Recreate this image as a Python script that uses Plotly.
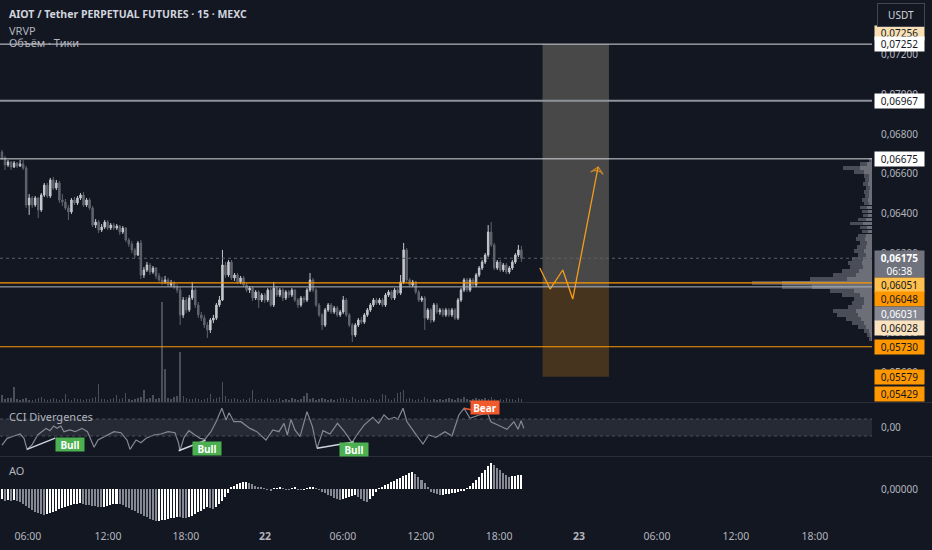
import plotly.graph_objects as go

# 15m свечи AIOT/USDT, цены в единицах 1e-5 USDT: (open, high, low, close)
ohlc = [
    (6709, 6720, 6669, 6679), (6679, 6690, 6619, 6644), (6644, 6669, 6634, 6659), (6659, 6664, 6619, 6634),
    (6634, 6664, 6629, 6654), (6654, 6659, 6629, 6639), (6639, 6669, 6634, 6649), (6649, 6669, 6619, 6629),
    (6629, 6639, 6428, 6443), (6443, 6498, 6393, 6478), (6478, 6488, 6428, 6443), (6443, 6488, 6433, 6478),
    (6478, 6483, 6377, 6418), (6418, 6503, 6408, 6493), (6493, 6554, 6483, 6543), (6543, 6554, 6478, 6488),
    (6488, 6579, 6478, 6569), (6569, 6584, 6518, 6528), (6528, 6569, 6518, 6554), (6554, 6564, 6453, 6468),
    (6468, 6498, 6438, 6458), (6458, 6473, 6418, 6428), (6428, 6443, 6367, 6408), (6408, 6478, 6398, 6468),
    (6468, 6483, 6443, 6453), (6453, 6488, 6443, 6478), (6478, 6503, 6468, 6493), (6493, 6508, 6433, 6443),
    (6443, 6478, 6433, 6468), (6468, 6478, 6418, 6428), (6428, 6438, 6332, 6342), (6342, 6372, 6327, 6357),
    (6357, 6367, 6302, 6317), (6317, 6347, 6307, 6332), (6332, 6367, 6322, 6357), (6357, 6367, 6317, 6327),
    (6327, 6352, 6317, 6342), (6342, 6352, 6317, 6327), (6327, 6347, 6317, 6337), (6337, 6342, 6292, 6307),
    (6307, 6337, 6297, 6327), (6327, 6332, 6257, 6267), (6267, 6277, 6232, 6247), (6247, 6262, 6201, 6217),
    (6217, 6227, 6176, 6191), (6191, 6262, 6186, 6252), (6252, 6267, 6071, 6091), (6091, 6131, 6076, 6116),
    (6116, 6156, 6106, 6141), (6141, 6151, 6091, 6106), (6106, 6136, 6096, 6126), (6126, 6131, 6071, 6086),
    (6086, 6101, 6056, 6066), (6066, 6081, 6040, 6056), (6056, 6086, 6045, 6066), (6066, 6076, 6030, 6040),
    (6040, 6066, 6030, 6051), (6051, 6061, 6020, 6030), (6030, 6045, 6000, 6015), (6015, 6030, 5839, 5890),
    (5890, 5980, 5875, 5965), (5965, 5980, 5900, 5915), (5915, 5990, 5905, 5975), (5975, 6056, 5965, 6015),
    (6015, 6025, 5925, 5940), (5940, 5955, 5875, 5890), (5890, 5905, 5859, 5874), (5874, 5890, 5824, 5839),
    (5839, 5854, 5774, 5814), (5814, 5874, 5799, 5864), (5864, 5890, 5849, 5874), (5874, 5950, 5864, 5940),
    (5940, 5985, 5930, 5965), (5965, 6217, 5960, 6141), (6141, 6156, 6076, 6091), (6091, 6166, 6081, 6156),
    (6156, 6166, 6066, 6076), (6076, 6101, 6061, 6091), (6091, 6101, 6045, 6056), (6056, 6086, 6045, 6076),
    (6076, 6086, 6030, 6040), (6040, 6051, 6005, 6015), (6015, 6035, 6000, 6025), (6025, 6035, 5960, 5975),
    (5975, 6015, 5965, 6005), (6005, 6015, 5925, 5965), (5965, 6000, 5955, 5990), (5990, 6000, 5950, 5965),
    (5965, 6025, 5955, 6015), (6015, 6025, 5930, 5940), (5940, 6056, 5930, 6025), (6025, 6035, 5980, 5990),
    (5990, 6025, 5980, 6015), (6015, 6025, 5960, 5975), (5975, 6015, 5965, 6005), (6005, 6015, 5975, 5990),
    (5990, 6025, 5980, 6015), (6015, 6020, 5955, 5965), (5965, 5975, 5925, 5940), (5940, 5985, 5930, 5975),
    (5975, 5985, 5950, 5965), (5965, 6025, 5955, 6015), (6015, 6101, 6005, 6066), (6066, 6076, 6005, 6015),
    (6015, 6025, 5930, 5940), (5940, 5950, 5880, 5890), (5890, 5900, 5814, 5839), (5839, 5925, 5829, 5915),
    (5915, 5950, 5905, 5940), (5940, 5950, 5895, 5905), (5905, 5935, 5895, 5925), (5925, 5935, 5880, 5890),
    (5890, 5915, 5880, 5905), (5905, 5985, 5895, 5965), (5965, 5975, 5880, 5890), (5890, 5900, 5829, 5839),
    (5839, 5849, 5754, 5789), (5789, 5849, 5779, 5839), (5839, 5874, 5829, 5864), (5864, 5880, 5844, 5854),
    (5854, 5900, 5844, 5890), (5890, 5925, 5880, 5915), (5915, 5950, 5905, 5940), (5940, 5975, 5930, 5965),
    (5965, 5975, 5940, 5950), (5950, 5975, 5940, 5965), (5965, 5975, 5930, 5940), (5940, 6000, 5930, 5990),
    (5990, 6015, 5980, 6005), (6005, 6015, 5965, 5975), (5975, 6025, 5965, 6015), (6015, 6025, 5990, 6000),
    (6000, 6091, 5990, 6056), (6056, 6252, 6045, 6217), (6217, 6227, 6056, 6066), (6066, 6076, 6030, 6040),
    (6040, 6066, 6030, 6056), (6056, 6061, 5995, 6005), (6005, 6015, 5955, 5965), (5965, 5985, 5955, 5975),
    (5975, 5985, 5814, 5874), (5874, 5925, 5864, 5915), (5915, 5925, 5849, 5864), (5864, 5950, 5854, 5940),
    (5940, 5950, 5895, 5905), (5905, 5925, 5890, 5915), (5915, 5925, 5880, 5890), (5890, 5925, 5880, 5915),
    (5915, 5925, 5880, 5890), (5890, 5925, 5880, 5915), (5915, 5925, 5864, 5874), (5874, 5975, 5864, 5965),
    (5965, 6025, 5955, 6015), (6015, 6076, 6005, 6066), (6066, 6076, 6005, 6015), (6015, 6076, 6005, 6066),
    (6066, 6076, 6030, 6040), (6040, 6101, 6030, 6091), (6091, 6136, 6081, 6126), (6126, 6166, 6116, 6156),
    (6156, 6201, 6146, 6191), (6191, 6342, 6181, 6307), (6307, 6357, 6232, 6242), (6242, 6252, 6116, 6126),
    (6126, 6166, 6116, 6156), (6156, 6166, 6106, 6116), (6116, 6151, 6106, 6141), (6141, 6151, 6096, 6106),
    (6106, 6136, 6096, 6126), (6126, 6166, 6116, 6156), (6156, 6201, 6146, 6191), (6191, 6242, 6181, 6217),
    (6217, 6237, 6156, 6175),
]

# объём по свечам (условные единицы)
volume = [
    7, 3, 4, 4, 15, 3, 2, 3, 4, 2,
    2, 3, 4, 5, 3, 2, 3, 4, 3, 2,
    3, 8, 3, 2, 4, 3, 3, 2, 3, 3,
    4, 5, 18, 3, 3, 2, 3, 4, 7, 3,
    4, 9, 3, 2, 3, 4, 5, 12, 3, 4,
    7, 3, 4, 100, 33, 4, 3, 5, 6, 50,
    6, 4, 3, 3, 4, 3, 2, 3, 4, 8,
    3, 4, 5, 20, 6, 3, 3, 4, 3, 2,
    3, 2, 4, 12, 3, 2, 3, 2, 4, 3,
    2, 3, 4, 2, 3, 2, 4, 3, 2, 3,
    6, 9, 3, 4, 2, 3, 4, 3, 2, 3,
    2, 3, 4, 4, 3, 2, 5, 3, 2, 3,
    3, 2, 4, 3, 2, 3, 8, 7, 3, 2,
    4, 9, 10, 12, 3, 4, 3, 2, 3, 2,
    5, 3, 2, 3, 2, 3, 2, 3, 4, 3,
    2, 4, 3, 5, 3, 2, 3, 4, 3, 3,
    4, 3, 5, 3, 2, 3, 2, 4, 3, 3,
    2, 4, 3,
]

# Awesome Oscillator, единицы 1e-5
ao = [
    -40, -46, -42, -48, -44, -46,
    -52, -60, -68, -76, -84, -90, -96, -100, -104,
    -100, -96, -90, -86, -80, -76, -72, -68, -64, -60, -58, -56,
    -58, -62, -64, -66, -68, -70, -72,
    -70, -66, -62, -60, -58,
    -60, -64, -70, -76, -82, -88, -94, -100, -106, -112, -118, -124, -128,
    -126, -124, -122, -120, -116, -114, -110,
    -112, -114, -116,
    -112, -106, -98, -92, -86, -78, -70,
    -74, -80,
    -72, -60, -46, -30, -16,
    6, 14, 20, 24, 27, 29,
    26, 20, 14, 9, 5,
    2, -3, -5, 2, 4, 6, 3, -2, -4, 3, 5, -2, -4, -1, 3, 5, 7,
    4, -4,
    -10, -16, -22, -28, -34, -40, -44,
    -40, -36, -32, -28, -24,
    -30, -38, -46, -52,
    -40, -26, -10,
    4, 10, 16, 22, 28, 34, 40, 46, 52, 58, 64, 69,
    62, 50, 38, 24, 10,
    -10, -16, -20, -24,
    -22, -20, -18, -16, -14, -12, -9, -6,
    4, 14, 26, 38, 50, 64, 78, 92, 104,
    96, 86, 76, 66, 56, 49,
    52, 54, 55, 57,
]

# CCI: позиция (номер свечи) и значение
cci_bar = [0, 1.7, 4.0, 6.0, 7.3, 8.3, 9.9, 11.8, 13.6, 14.6,
           15.9, 17.1, 18.2, 19.5, 20.5, 22.5, 24.2, 26.5, 28.3, 30.5,
           31.8, 34.8, 37.1, 39.4, 41.4, 42.4, 44.4, 46.0, 47.7, 50.3,
           52.6, 55.0, 57.3, 58.5, 58.9, 60.3, 61.9, 63.9, 65.6, 67.2,
           69.2, 70.9, 72.8, 74.2, 75.2, 76.8, 79.1, 82.1, 84.4, 87.4,
           89.7, 91.7, 93.4, 94.5, 95.7, 97.0, 98.7, 101.0, 102.8, 104.3,
           106.3, 108.6, 111.1, 113.4, 115.9, 117.5, 119.9, 122.8, 124.7, 126.5,
           128.1, 130.0, 131.1, 132.8, 134.1, 136.4, 139.4, 141.3, 143.7, 146.7,
           149.0, 151.3, 153.0, 155.0, 158.0, 160.8, 161.9, 164.2, 167.2, 169.5,
           170.9, 171.9, 172.8]
cci_val = [-206, -127, -100, -76, -127, -257, -206, -88, -37, -10,
           -37, 18, -10, 18, -49, -29, -49, -10, -49, -233,
           -147, -88, -49, -61, -147, -257, -147, -178, -127, -88,
           -76, -49, -61, -186, -273, -116, -37, -88, -127, -139,
           -49, 68, 226, 88, 174, 68, 68, -10, -49, -147,
           -29, -49, 49, -88, 96, -29, -108, 186, 10, -245,
           -37, -76, 49, -49, -178, -88, 29, 120, 49, 147,
           96, 120, 96, 226, 68, -49, -194, -88, -116, -49,
           -100, 147, 226, 108, 147, 167, 68, 29, -21, 68,
           -21, 80, -10]

# дивергенции CCI: (бар1, бар2), (cci1, cci2), метка и её место
div_bars = [(8.3, 17.6), (58.5, 67.4), (104.3, 116.5), (153.0, 160.3)]
div_vals = [(-257, -125), (-273, -150), (-245, -170), (226, 170)]
div_kind = ["Bull", "Bull", "Bull", "Bear"]
div_label_bar = [22.6, 68.0, 116.6, 159.8]
div_label_val = [-200, -241, -262, 235]

# VRVP: уровни цены и объём (полный / восходящий)
vp_price = [0.0667 - 0.0002 * k for k in range(46)]
vp_total = [3, 12, 29, 18, 8, 7, 9, 6, 8, 7, 10, 8, 12, 10, 9, 14, 22, 12, 10, 14,
            16, 12, 15, 18, 14, 20, 24, 22, 30, 39, 62, 120, 90, 42, 30, 18, 20, 24, 39, 35,
            26, 20, 14, 8, 5, 3]
vp_up = [1, 5, 12, 8, 3, 3, 4, 2, 3, 3, 4, 3, 5, 4, 4, 6, 9, 5, 4, 6,
         7, 5, 6, 8, 6, 9, 10, 9, 13, 16, 25, 90, 60, 18, 12, 8, 8, 10, 16, 14,
         11, 8, 6, 3, 2, 1]

# горизонтальные уровни
levels = [0.07252, 0.06967, 0.06675, 0.06051, 0.06031, 0.05730]
level_colors = ["#d8d9de", "#8f929b", "#d8d9de", "#ff9800", "#b2b5be", "#ff9800"]
level_widths = [1, 2, 1, 1.2, 1, 1.2]
last_price = 0.06175

# позиция (long): вход, стоп, цель и интервал в свечах
pos_entry, pos_stop, pos_target = 0.06031, 0.05579, 0.07252
pos_bars = (179, 201)

# прогноз (оранжевая ломаная)
path_bar = [178.1, 181.5, 185.7, 189.0, 197.4]
path_price = [0.06126, 0.06020, 0.06116, 0.05970, 0.06634]

# метки шкалы цены
plabels = ["0,07256", "0,07252", "0,06967", "0,06675", "<b>0,06175</b><br>06:38",
           "0,06051", "0,06048", "0,06031", "0,06028", "0,05730", "0,05579", "0,05429"]
pvalues = [0.07256, 0.07252, 0.06967, 0.06675, 0.06175,
           0.06051, 0.06048, 0.06031, 0.06028, 0.05730, 0.05579, 0.05429]
price_ticks = [0.056, 0.058, 0.062, 0.064, 0.066, 0.068, 0.070, 0.072]

# ось времени
tick_text = ["06:00", "12:00", "18:00", "<b>22</b>", "06:00", "12:00", "18:00",
             "<b>23</b>", "06:00", "12:00", "18:00"]
tick_pos = [8.6, 35.1, 60.9, 87.1, 112.9, 138.7, 164.6, 191.1, 216.9, 243.0, 269.2]

# ---------------------------------------------------------------
BG = "#131722"
TXT = "#b2b5be"
FONT = "Noto Sans"
W, H = 932, 550
PLOT_R = 872 / W
P_RANGE = [0.05452, 0.07474]


def py(px):
    return 1 - px / H


bars = list(range(len(ohlc)))
o = [r[0] / 1e5 for r in ohlc]
h = [r[1] / 1e5 for r in ohlc]
l = [r[2] / 1e5 for r in ohlc]
c = [r[3] / 1e5 for r in ohlc]
ao_v = [v / 1e5 for v in ao]
ao_col = ["#ffffff" if i == 0 or ao[i] >= ao[i - 1] else "#868993" for i in range(len(ao))]

fig = go.Figure()

fig.add_trace(go.Bar(x=bars, y=volume, yaxis="y2", marker_color="rgba(120,123,134,0.55)",
                     marker_line_width=0, width=0.45, showlegend=False))

fig.add_trace(go.Candlestick(
    x=bars, open=o, high=h, low=l, close=c,
    increasing=dict(line=dict(color="#c5c7cd", width=1), fillcolor="#c5c7cd"),
    decreasing=dict(line=dict(color="#60636d", width=1), fillcolor="#60636d"),
    whiskerwidth=0, showlegend=False))

fig.add_trace(go.Bar(x=vp_total, y=vp_price, orientation="h", xaxis="x2", yaxis="y",
                     width=0.00019, marker_color="#4a4d57", marker_line_width=0, showlegend=False))
fig.add_trace(go.Bar(x=vp_up, y=vp_price, orientation="h", xaxis="x2", yaxis="y",
                     width=0.00019, marker_color="#6c6f78", marker_line_width=0, showlegend=False))

fig.add_trace(go.Scatter(
    x=path_bar, y=path_price, mode="lines+markers",
    line=dict(color="#f59d1a", width=1.3),
    marker=dict(symbol=["circle"] * 4 + ["arrow-wide-open"], size=[0, 0, 0, 0, 9],
                angleref="previous", color="#f59d1a", line=dict(color="#f59d1a", width=1.3)),
    showlegend=False))

fig.add_trace(go.Scatter(x=cci_bar, y=cci_val, yaxis="y3", mode="lines",
                         line=dict(color="#868993", width=1.2), showlegend=False))

for (b1, b2), (v1, v2), kind, lb, lv in zip(div_bars, div_vals, div_kind, div_label_bar, div_label_val):
    col = "#d1d4dc" if kind == "Bull" else "#f05a2c"
    fig.add_trace(go.Scatter(x=[b1, b2], y=[v1, v2], yaxis="y3", mode="lines",
                             line=dict(color=col, width=1.5), showlegend=False))
    fig.add_annotation(x=lb, y=lv, xref="x", yref="y3", text="<b>" + kind + "</b>",
                       showarrow=False, xanchor="center", yanchor="middle",
                       font=dict(color="#ffffff", size=10, family=FONT),
                       bgcolor="#4caf50" if kind == "Bull" else "#f05a2c",
                       width=26, height=11, borderpad=1)

fig.add_trace(go.Bar(x=bars, y=ao_v, yaxis="y4", marker_color=ao_col, marker_line_width=0,
                     width=0.5, showlegend=False))

shapes = []
for lv, lc, lw in zip(levels, level_colors, level_widths):
    shapes.append(dict(type="line", xref="x domain", yref="y", x0=0, x1=1, y0=lv, y1=lv,
                       line=dict(color=lc, width=lw)))
shapes.append(dict(type="line", xref="x domain", yref="y", x0=0, x1=1, y0=last_price, y1=last_price,
                   line=dict(color="#5d606b", width=1, dash="dot")))
shapes.append(dict(type="rect", xref="x", yref="y", x0=pos_bars[0], x1=pos_bars[1],
                   y0=pos_entry, y1=pos_target, fillcolor="rgba(125,122,112,0.5)",
                   line_width=0, layer="below"))
shapes.append(dict(type="rect", xref="x", yref="y", x0=pos_bars[0], x1=pos_bars[1],
                   y0=pos_stop, y1=pos_entry, fillcolor="rgba(122,82,28,0.5)",
                   line_width=0, layer="below"))
shapes.append(dict(type="rect", xref="x domain", yref="y3", x0=0, x1=1, y0=-100, y1=100,
                   fillcolor="#262a35", line_width=0, layer="below"))
for v in (-100, 100):
    shapes.append(dict(type="line", xref="x domain", yref="y3", x0=0, x1=1, y0=v, y1=v,
                       line=dict(color="#4a4e59", width=1, dash="dot")))
for sep in (402.5, 456.5):
    shapes.append(dict(type="line", xref="paper", yref="paper", x0=0, x1=1, y0=py(sep), y1=py(sep),
                       line=dict(color="#2a2e39", width=1)))

label_bg = ["#f8e0b4", "#ffffff", "#ffffff", "#ffffff", "#70737e", "#ffc04d",
            "#ff9800", "#868993", "#fbe3c0", "#ff9800", "#ff9800", "#ff9800"]
label_fg = ["#131722", "#131722", "#131722", "#131722", "#ffffff", "#131722",
            "#131722", "#ffffff", "#131722", "#131722", "#131722", "#131722"]
label_shift = [10, 0, 0, 0, -6, -2, -15, -27, -41, 0, 0, 8]
for txt, val, bg, fg, sh in zip(plabels, pvalues, label_bg, label_fg, label_shift):
    two = "<br>" in txt
    fig.add_annotation(x=874 / W, y=max(val, P_RANGE[0]), xref="paper", yref="y", text=txt,
                       showarrow=False, xanchor="left", yanchor="middle", yshift=sh, align="center",
                       font=dict(color=fg, size=10, family=FONT), bgcolor=bg,
                       width=47, height=24 if two else 12, borderpad=1)

for txt, ypx, col, size in [("<b>AIOT / Tether PERPETUAL FUTURES · 15 · MEXC</b>", 14, "#d1d4dc", 10.5),
                            ("VRVP", 30, TXT, 11), ("Объём · Тики", 43, TXT, 11),
                            ("CCI Divergences", 416, TXT, 11), ("AO", 470, TXT, 11)]:
    fig.add_annotation(x=7 / W, y=py(ypx), xref="paper", yref="paper", xanchor="left",
                       yanchor="middle", text=txt, showarrow=False,
                       font=dict(color=col, size=size, family=FONT))

fig.add_annotation(x=901 / W, y=py(14.5), xref="paper", yref="paper", text="USDT", showarrow=False,
                   xanchor="center", yanchor="middle",
                   font=dict(color="#d1d4dc", size=10, family=FONT), bgcolor=BG,
                   bordercolor="#434651", borderwidth=1, borderpad=4, width=38)

axis_font = dict(color=TXT, size=10, family=FONT)
fig.update_layout(
    width=W, height=H, margin=dict(l=0, r=0, t=0, b=0),
    paper_bgcolor=BG, plot_bgcolor=BG, separators=", ",
    barmode="overlay", bargap=0, showlegend=False, shapes=shapes,
    font=dict(family=FONT, color=TXT),
    xaxis=dict(domain=[0, PLOT_R], range=[-0.66, 288.1], anchor="y4",
               tickvals=tick_pos, ticktext=tick_text, tickfont=dict(color=TXT, size=10.5, family=FONT),
               showgrid=False, zeroline=False, showline=False, ticks="",
               ticklabelstandoff=6, rangeslider=dict(visible=False)),
    xaxis2=dict(domain=[0, PLOT_R], range=[872, 0], overlaying="x", anchor="y",
                visible=False),
    yaxis=dict(domain=[py(402), 1], range=P_RANGE, side="right", anchor="x",
               tickvals=price_ticks, tickformat=".5f",
               tickfont=axis_font, showgrid=False, zeroline=False, ticks="",
               ticklabelstandoff=8),
    yaxis2=dict(overlaying="y", range=[0, 402], visible=False),
    yaxis3=dict(domain=[py(455), py(403)], range=[-323, 288], side="right", anchor="x",
                tickvals=[0], tickformat=".2f", tickfont=axis_font, showgrid=False,
                zeroline=False, ticks="", ticklabelstandoff=8),
    yaxis4=dict(domain=[py(522), py(457)], range=[-0.00132, 0.00128], side="right", anchor="x",
                tickvals=[0], tickformat=".5f", tickfont=axis_font, showgrid=False,
                zeroline=False, ticks="", ticklabelstandoff=8),
)

fig.write_html("out.html", config={"displayModeBar": False},
               post_script="document.body.style.margin='0';")
